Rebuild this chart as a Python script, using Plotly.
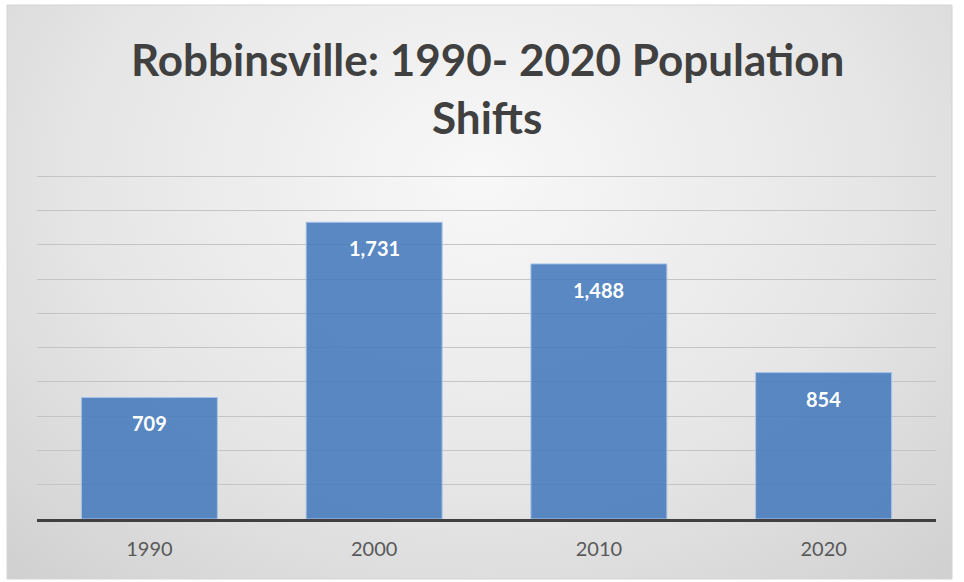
import base64
import plotly.graph_objects as go

years = ["1990", "2000", "2010", "2020"]
population = [709, 1731, 1488, 854]
label_text = ["709", "1,731", "1,488", "854"]
title_lines = ["Robbinsville: 1990- 2020 Population", "Shifts"]

positions = list(range(len(years)))

W, H = 964, 582
ml, mr, mt, mb = 37, 28, 171, 63
pw, ph = W - ml - mr, H - mt - mb

# chart box in pixels
bx0, bx1, by0, by1 = 7, 952, 5, 579

svg = f'''<svg xmlns="http://www.w3.org/2000/svg" width="{bx1-bx0}" height="{by1-by0}" preserveAspectRatio="none">
<defs><radialGradient id="g" cx="0.5" cy="0.3" r="0.75" gradientTransform="translate(0.5,0.3) scale(1,1.3) translate(-0.5,-0.3)">
<stop offset="0" stop-color="#f8f8f8"/><stop offset="0.55" stop-color="#e6e6e6"/><stop offset="1" stop-color="#cfcfcf"/></radialGradient></defs>
<rect x="0" y="0" width="100%" height="100%" fill="url(#g)"/></svg>'''
src = "data:image/svg+xml;base64," + base64.b64encode(svg.encode()).decode()

def px2x(px):
    return (px - ml) / pw

def px2y(py):
    return (H - mb - py) / ph

fig = go.Figure()
fig.add_trace(go.Bar(
    x=positions, y=population,
    marker=dict(color="rgba(72,124,190,0.9)", line=dict(color="#a9c4e8", width=1)),
    width=0.605,
    hoverinfo="skip",
))

for xp, val, txt in zip(positions, population, label_text):
    fig.add_annotation(x=xp, y=val, text=txt, showarrow=False, yanchor="middle", yshift=-26,
                       font=dict(family="Lato", size=20, color="white", weight="bold"))

for line, ypx in zip(title_lines, [59, 117]):
    fig.add_annotation(xref="paper", yref="paper", x=(W / 2 + 5 - ml) / pw, y=px2y(ypx),
                       xanchor="center", yanchor="middle", text=line, showarrow=False,
                       font=dict(family="Lato", size=44, color="#404040", weight="bold"))

fig.add_layout_image(dict(source=src, xref="paper", yref="paper",
                          x=px2x(bx0), y=px2y(by0), sizex=(bx1 - bx0) / pw, sizey=(by1 - by0) / ph,
                          xanchor="left", yanchor="top", sizing="stretch", layer="below"))
fig.add_shape(type="rect", xref="paper", yref="paper", x0=px2x(bx0), x1=px2x(bx1), y0=px2y(by1), y1=px2y(by0),
              line=dict(color="#d4d4d4", width=1), layer="below")

fig.update_layout(
    width=W, height=H,
    margin=dict(l=ml, r=mr, t=mt, b=mb),
    paper_bgcolor="white", plot_bgcolor="rgba(0,0,0,0)",
    showlegend=False,
    xaxis=dict(range=[-0.5, len(years) - 0.5], tickmode="array", tickvals=positions, ticktext=years,
               showgrid=False, zeroline=False, ticks="", ticklabelstandoff=10,
               tickfont=dict(family="Lato", size=20, color="#595959"),
               showline=True, linecolor="#404040", linewidth=3, fixedrange=True),
    yaxis=dict(range=[0, 2030], tickmode="linear", tick0=0, dtick=200, showgrid=True, gridcolor="#c4c4c4", gridwidth=1,
               showticklabels=False, zeroline=False, ticks="", fixedrange=True),
)

fig.write_html("out.html")
